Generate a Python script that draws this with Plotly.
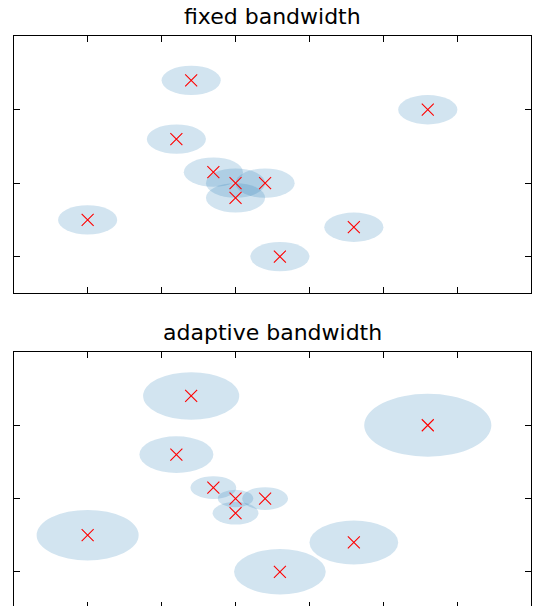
import plotly.graph_objects as go

# ---- data ----
x_vals = [2.4, 5.6, 2.2, 2.7, 3.0, 3.4, 3.0, 1.0, 4.6, 3.6]
y_vals = [3.4, 3.0, 2.6, 2.15, 2.0, 2.0, 1.8, 1.5, 1.4, 1.0]
fixed_bw = [0.4] * len(x_vals)
adaptive_bw = [0.65, 0.86, 0.50, 0.31, 0.24, 0.31, 0.31, 0.69, 0.60, 0.62]
titles = ["fixed bandwidth", "adaptive bandwidth"]
x_ticks = [1, 2, 3, 4, 5, 6]
y_ticks = [1, 2, 3]

W, H = 533, 606
ASPECT = 0.5  # vertical semi-axis relative to horizontal
FILL = "rgba(31,119,180,0.2)"
MARKER = dict(symbol="x-thin", size=12, line=dict(color="#ff0000", width=1.1))

fig = go.Figure()

# markers
fig.add_trace(go.Scatter(x=x_vals, y=y_vals, mode="markers", xaxis="x", yaxis="y",
                         marker=MARKER, hoverinfo="skip", showlegend=False))
fig.add_trace(go.Scatter(x=x_vals, y=y_vals, mode="markers", xaxis="x2", yaxis="y2",
                         marker=MARKER, hoverinfo="skip", showlegend=False))
# dummy trace to register the top-border axis of lower panel
fig.add_trace(go.Scatter(x=[None], y=[None], xaxis="x3", yaxis="y2", mode="markers",
                         hoverinfo="skip", showlegend=False))

shapes = []
for (xr, yr, bws) in [("x", "y", fixed_bw), ("x2", "y2", adaptive_bw)]:
    for cx, cy, bw in zip(x_vals, y_vals, bws):
        shapes.append(dict(type="circle", xref=xr, yref=yr,
                           x0=cx - bw, x1=cx + bw, y0=cy - bw * ASPECT, y1=cy + bw * ASPECT,
                           fillcolor=FILL, line=dict(width=0), layer="below"))

xdom = [13.7 / W, 531.3 / W]
top_dom = [1 - 293.3 / H, 1 - 36.3 / H]
bot_dom = [0, 1 - 352.0 / H]

axis_common = dict(showticklabels=False, ticks="inside", tickwidth=1, tickcolor="black",
                   showgrid=False, zeroline=False, linecolor="black", linewidth=1.3)

fig.update_layout(
    width=W, height=H,
    margin=dict(l=0, r=0, t=0, b=0),
    paper_bgcolor="white", plot_bgcolor="white",
    shapes=shapes,
    xaxis=dict(domain=xdom, range=[0, 7], tickvals=x_ticks, anchor="y", ticklen=6,
               showline=True, mirror="ticks", **axis_common),
    yaxis=dict(domain=top_dom, range=[0.5, 4], tickvals=y_ticks, anchor="x", ticklen=6,
               showline=True, mirror="ticks", **axis_common),
    xaxis2=dict(domain=xdom, range=[0, 7], tickvals=x_ticks, anchor="y2", ticklen=4,
                showline=False, **axis_common),
    xaxis3=dict(domain=xdom, range=[0, 7], tickvals=x_ticks, anchor="y2", overlaying="x2",
                side="top", ticklen=6, showline=True, **axis_common),
    yaxis2=dict(domain=bot_dom, range=[0.533, 4], tickvals=y_ticks, anchor="x2", ticklen=6,
                showline=True, mirror="ticks", **axis_common),
    annotations=[
        dict(text=titles[0], xref="paper", yref="paper", x=272.5 / W, y=1 - 30.9 / H,
             xanchor="center", yanchor="bottom", showarrow=False,
             font=dict(family="DejaVu Sans", size=22, color="black")),
        dict(text=titles[1], xref="paper", yref="paper", x=272.5 / W, y=1 - 346.6 / H,
             xanchor="center", yanchor="bottom", showarrow=False,
             font=dict(family="DejaVu Sans", size=22, color="black")),
    ],
)

fig.write_html("out.html", config={"displayModeBar": False},
               post_script="document.body.style.margin='0';document.body.style.overflow='hidden';")
